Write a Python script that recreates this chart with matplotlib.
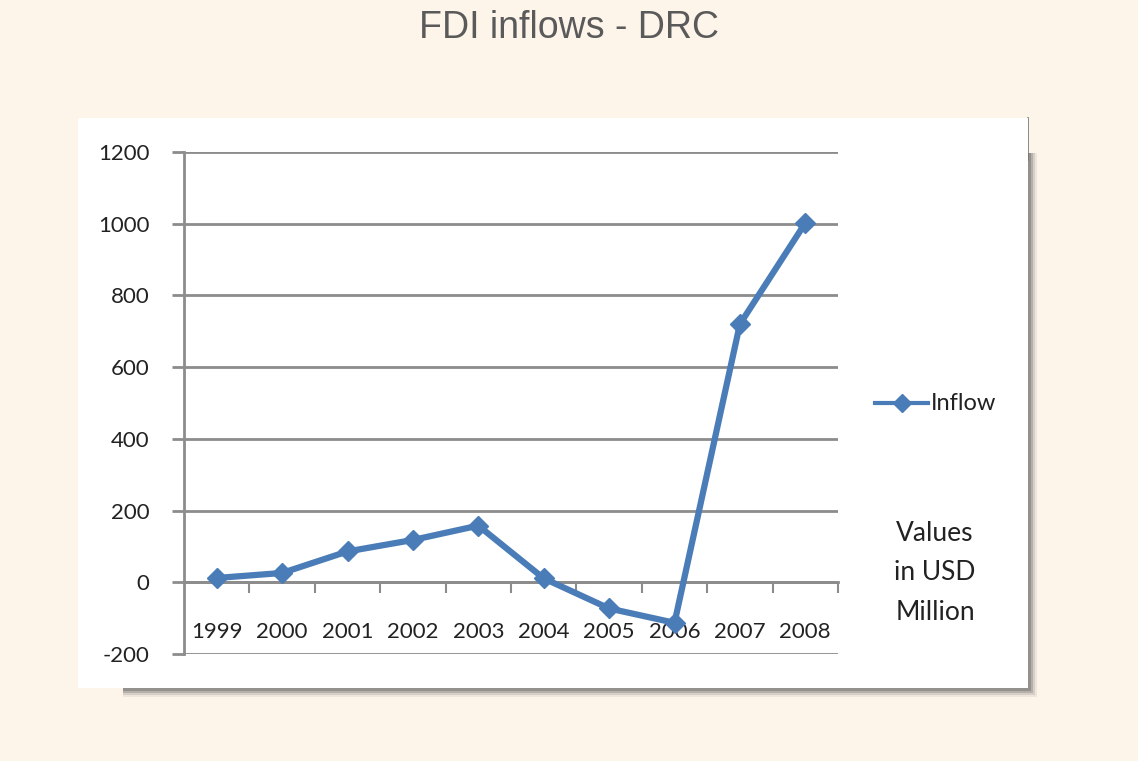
import matplotlib
matplotlib.use("Agg")
import matplotlib.pyplot as plt
from matplotlib.patches import Rectangle
from matplotlib.lines import Line2D

years = ["1999", "2000", "2001", "2002", "2003", "2004", "2005", "2006", "2007", "2008"]
inflow = [12, 26, 86, 118, 158, 11, -73, -113, 720, 1002]
yticks = [-200, 0, 200, 400, 600, 800, 1000, 1200]
title = "FDI inflows - DRC"
series_name = "Inflow"
note = "Values\nin USD\nMillion"

W, H = 1138, 761
fig = plt.figure(figsize=(W / 100, H / 100), dpi=100)
fig.patch.set_facecolor("#fdf5ea")

def fx(px):
    return px / W

def fy(py):
    return 1 - py / H

# shadow + white panel
for off, a in [(9, 0.10), (7, 0.18), (5, 0.30), (3, 0.45)]:
    fig.patches.append(Rectangle((fx(78 + 45), fy(688 + off)), fx(1028 - 123 + off), fy(118 + 35) - fy(688 + off),
                                 transform=fig.transFigure, facecolor="#6a6a6a", alpha=a,
                                 edgecolor="none", zorder=0))
fig.patches.append(Rectangle((fx(78), fy(688)), fx(1028 - 78), fy(118) - fy(688),
                             transform=fig.transFigure, facecolor="white", edgecolor="none", zorder=1))
fig.add_artist(Line2D([fx(1028), fx(1028)], [fy(118), fy(160)], transform=fig.transFigure,
                      color="#777777", lw=1.2, zorder=1))

ax = fig.add_axes([fx(184), fy(654), fx(838 - 184), fy(152) - fy(654)])
ax.set_facecolor("none")
ax.set_zorder(2)

x = list(range(len(years)))
color = "#4a7cb8"
ax.plot(x, inflow, color=color, lw=4.5, marker="D", markersize=10, markeredgecolor=color,
        solid_joinstyle="round", zorder=5, clip_on=False)

ax.set_xlim(-0.5, len(years) - 0.5)
ax.set_ylim(-200, 1200)
ax.set_yticks(yticks)
ax.set_yticklabels([str(v) for v in yticks], fontsize=16, family="Lato", color="#222222")
ax.yaxis.grid(True, color="#8c8c8c", lw=2)
ax.set_axisbelow(True)

for s in ["top", "right"]:
    ax.spines[s].set_visible(False)
ax.spines["left"].set_color("#8c8c8c")
ax.spines["left"].set_linewidth(2)
ax.spines["bottom"].set_position(("data", 0))
ax.spines["bottom"].set_color("#8c8c8c")
ax.spines["bottom"].set_linewidth(2)
ax.tick_params(axis="y", length=9, width=2, color="#8c8c8c", pad=16)
ax.set_xticks([i + 0.5 for i in range(len(years))])
ax.set_xticklabels([])
ax.tick_params(axis="x", length=8, width=1.5, color="#8c8c8c", direction="out")

for i, yr in enumerate(years):
    ax.text(i, -140, yr, ha="center", va="center", fontsize=16, family="Lato", color="#222222")

# legend
lx0, lx1, ly = 875, 928, 403
fig.add_artist(Line2D([fx(lx0), fx(lx1)], [fy(ly), fy(ly)], transform=fig.transFigure,
                      color=color, lw=3, zorder=3))
fig.add_artist(Line2D([fx((lx0 + lx1) / 2)], [fy(ly)], transform=fig.transFigure,
                      color=color, marker="D", markersize=9, lw=0, zorder=3))
fig.text(fx(931), fy(ly), series_name, ha="left", va="center", fontsize=17, family="Lato",
         color="#222222", zorder=3)
fig.text(fx(935), fy(573), note, ha="center", va="center", fontsize=19, family="Lato",
         color="#222222", linespacing=1.72, zorder=3)

fig.text(0.5, fy(28), title, ha="center", va="center", fontsize=27, family="Liberation Sans",
         color="#5a5a5a")

fig.savefig("out.png", dpi=100, facecolor=fig.get_facecolor())
